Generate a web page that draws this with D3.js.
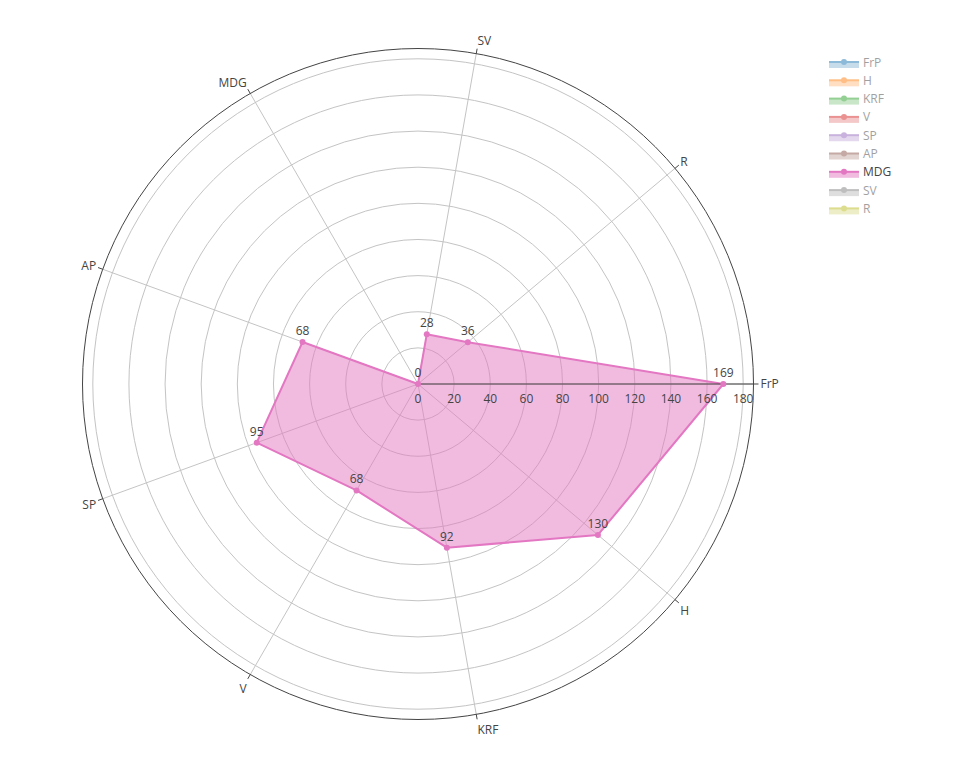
<!DOCTYPE html>
<html>
<head>
<meta charset="utf-8">
<script src="https://cdn.jsdelivr.net/npm/d3@7"></script>
<style>
  body { margin: 0; background: #fff; }
  text { font-family: "Open Sans", verdana, arial, sans-serif; font-size: 12px; fill: #444; }
</style>
</head>
<body>
<div class="chart"></div>
<script>
const WIDTH = 960, HEIGHT = 768;
const CX = 418, CY = 384, R = 335.5;

// angular categories, clockwise from east
const categories = ["FrP", "H", "KRF", "V", "SP", "AP", "MDG", "SV", "R"];
// visible trace (MDG)
const mdgValues = [169, 130, 92, 68, 95, 68, 0, 28, 36];
const radialTicks = [0, 20, 40, 60, 80, 100, 120, 140, 160, 180];
const radialMax = 185.7;

// legend entries; only MDG is switched on
const legendNames = ["FrP", "H", "KRF", "V", "SP", "AP", "MDG", "SV", "R"];
const legendColors = ["#1f77b4", "#ff7f0e", "#2ca02c", "#d62728", "#9467bd", "#8c564b", "#e377c2", "#7f7f7f", "#bcbd22"];
const activeTrace = "MDG";

const svg = d3.select(".chart")
  .append("svg")
  .attr("width", WIDTH)
  .attr("height", HEIGHT);

const r = d3.scaleLinear().domain([0, radialMax]).range([0, R]);
const angle = d3.scalePoint().domain(categories).range([0, 360 * (categories.length - 1) / categories.length]);

// degrees clockwise from east -> screen radians (y grows downward)
const rad = d => angle(d) * Math.PI / 180;
const px = (c, v) => CX + Math.cos(rad(c)) * r(v);
const py = (c, v) => CY + Math.sin(rad(c)) * r(v);

const g = svg.append("g");

// circular grid
g.selectAll("circle.grid")
  .data(radialTicks.slice(1))
  .join("circle")
  .attr("class", "grid")
  .attr("cx", CX).attr("cy", CY)
  .attr("r", d => r(d))
  .attr("fill", "none")
  .attr("stroke", "#c4c4c4")
  .attr("stroke-width", 1);

// spokes
g.selectAll("line.spoke")
  .data(categories)
  .join("line")
  .attr("class", "spoke")
  .attr("x1", CX).attr("y1", CY)
  .attr("x2", d => px(d, radialMax))
  .attr("y2", d => py(d, radialMax))
  .attr("stroke", "#c4c4c4")
  .attr("stroke-width", 1);

// outer angular axis line
g.append("circle")
  .attr("cx", CX).attr("cy", CY)
  .attr("r", R)
  .attr("fill", "none")
  .attr("stroke", "#444")
  .attr("stroke-width", 1);

// angular ticks and labels
const TICK = 5, PAD = 7;
g.selectAll("line.atick")
  .data(categories)
  .join("line")
  .attr("class", "atick")
  .attr("x1", d => CX + Math.cos(rad(d)) * R)
  .attr("y1", d => CY + Math.sin(rad(d)) * R)
  .attr("x2", d => CX + Math.cos(rad(d)) * (R + TICK))
  .attr("y2", d => CY + Math.sin(rad(d)) * (R + TICK))
  .attr("stroke", "#444");

g.selectAll("text.alabel")
  .data(categories)
  .join("text")
  .attr("class", "alabel")
  .attr("x", d => CX + Math.cos(rad(d)) * (R + PAD))
  .attr("y", d => {
    const c = Math.cos(rad(d)), s = -Math.sin(rad(d));
    const ff = s > 0 ? 0.2 : 1;
    return CY - s * (R + PAD + 12 * ff) + Math.abs(c) * 12 * 0.35;
  })
  .attr("text-anchor", d => {
    const c = Math.cos(rad(d));
    return Math.abs(c) < 0.1 ? "middle" : (c > 0 ? "start" : "end");
  })
  .text(d => d);

// trace
const color = legendColors[legendNames.indexOf(activeTrace)];
const line = d3.line()
  .x((v, i) => px(categories[i], v))
  .y((v, i) => py(categories[i], v))
  .curve(d3.curveLinearClosed);

g.append("path")
  .attr("d", line(mdgValues))
  .attr("fill", color)
  .attr("fill-opacity", 0.5)
  .attr("stroke", color)
  .attr("stroke-width", 2)
  .attr("stroke-linejoin", "round");

// radial axis line and ticks along FrP direction
g.append("line")
  .attr("x1", CX).attr("y1", CY)
  .attr("x2", CX + R).attr("y2", CY)
  .attr("stroke", "#444")
  .attr("stroke-width", 1);

g.selectAll("text.rlabel")
  .data(radialTicks)
  .join("text")
  .attr("class", "rlabel")
  .attr("x", d => CX + r(d))
  .attr("y", CY + 19)
  .attr("text-anchor", "middle")
  .text(d => d);

g.selectAll("circle.marker")
  .data(mdgValues)
  .join("circle")
  .attr("class", "marker")
  .attr("cx", (v, i) => px(categories[i], v))
  .attr("cy", (v, i) => py(categories[i], v))
  .attr("r", 3)
  .attr("fill", color);

g.selectAll("text.vlabel")
  .data(mdgValues)
  .join("text")
  .attr("class", "vlabel")
  .attr("x", (v, i) => px(categories[i], v))
  .attr("y", (v, i) => py(categories[i], v) - 7)
  .attr("text-anchor", "middle")
  .text(v => v);

// legend
const legend = svg.append("g").attr("transform", "translate(824,62)");
const item = legend.selectAll("g.item")
  .data(legendNames)
  .join("g")
  .attr("class", "item")
  .attr("transform", (d, i) => `translate(0,${i * 18.3})`)
  .attr("opacity", d => d === activeTrace ? 1 : 0.5);

item.append("rect")
  .attr("x", 5).attr("y", 0)
  .attr("width", 30).attr("height", 6)
  .attr("fill", (d, i) => legendColors[i])
  .attr("fill-opacity", 0.5);
item.append("line")
  .attr("x1", 5).attr("x2", 35)
  .attr("stroke", (d, i) => legendColors[i])
  .attr("stroke-width", 2);
item.append("circle")
  .attr("cx", 20).attr("r", 3)
  .attr("fill", (d, i) => legendColors[i]);
item.append("text")
  .attr("x", 39).attr("y", 4.5)
  .text(d => d);
</script>
</body>
</html>
